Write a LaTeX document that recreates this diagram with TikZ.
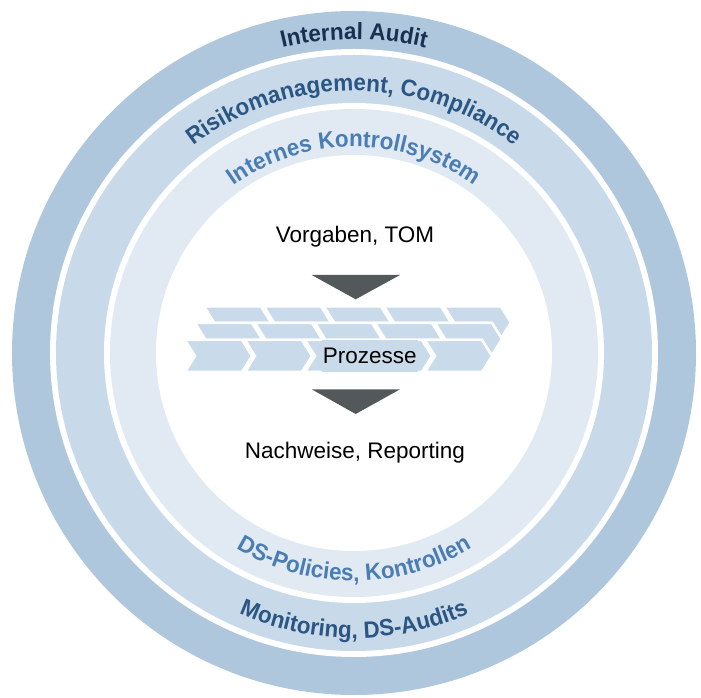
\documentclass[tikz,border=0pt]{standalone}
\usepackage{fontspec}
\setmainfont{Liberation Sans}
\newfontfamily\ringfam{Liberation Sans}[FakeStretch=0.955]
\usetikzlibrary{decorations.text}

\definecolor{ringouter}{HTML}{AFC7DD}
\definecolor{ringmiddle}{HTML}{C8DAE9}
\definecolor{ringinner}{HTML}{E1EAF3}
\definecolor{chevblue}{HTML}{C9DAEA}
\definecolor{arrowgray}{HTML}{53585B}
\definecolor{auditcol}{HTML}{1A3050}
\definecolor{riskcol}{HTML}{2B5683}
\definecolor{ikscol}{HTML}{4A7DB4}

\newcommand\ringfont{\ringfam\fontsize{23.5}{26}\selectfont\bfseries}
\newcommand\centerfont{\fontsize{22.5}{26}\selectfont}

% one chevron: #1 = left x, #2 = top y
\newcommand\chevron[2]{%
  \path[chevfill] (#1,#2) -- ++(57,0) -- ++(10,-16) -- ++(-10,-16)
    -- ++(-57,0) -- ++(10,16) -- cycle;}
% white backing behind a row of five chevrons
\newcommand\chevrow[2]{%
  \path[backing] (#1,#2) -- ++(297,0) -- ++(10,-16) -- ++(-10,-16)
    -- ++(-297,0) -- ++(10,16) -- cycle;
  \foreach \k in {0,...,4}{\chevron{#1+60*\k}{#2}}}

\begin{document}
\begin{tikzpicture}[x=1pt,y=1pt,
  chevfill/.style={fill=chevblue, draw=white, line width=2.5pt, line join=miter},
  backing/.style={fill=white, draw=white, line width=2.5pt},
  marker/.style={fill=arrowgray},
  centertext/.style={anchor=base, font=\centerfont, text=black, inner sep=0pt}]
\useasboundingbox (-354,-345) rectangle (347,353);

% concentric rings
\fill[ringouter] (0,0) circle[radius=342];
\fill[white] (0,0) circle[radius=304];
\fill[ringmiddle] (0,0) circle[radius=298];
\fill[white] (0,0) circle[radius=250];
\fill[ringinner] (0,0) circle[radius=244];
\fill[white] (0,0) circle[radius=198];

% ring labels, top
\path[decorate, decoration={text along path, text align=center, text color=auditcol,
  text={|\ringfont|Internal Audit}}]
  (160:313.5) arc[start angle=160, end angle=20, radius=313.5];
\path[decorate, decoration={text along path, text align=center, text color=riskcol,
  text={|\ringfont|Risikomanagement, Compliance}}]
  (165:262) arc[start angle=165, end angle=15, radius=262];
\path[decorate, decoration={text along path, text align=center, text color=ikscol,
  text={|\ringfont|Internes Kontrollsystem}}]
  (165:206) arc[start angle=165, end angle=15, radius=206];

% ring labels, bottom
\path[decorate, decoration={text along path, text align=center, text color=ikscol,
  text={|\ringfont|DS-Policies, Kontrollen}}]
  (195:228) arc[start angle=195, end angle=345, radius=228];
\path[decorate, decoration={text along path, text align=center, text color=riskcol,
  text={|\ringfont|Monitoring, DS-Audits}}]
  (200:285) arc[start angle=200, end angle=340, radius=285];

% centre content
\node[centertext] (vorgaben) at (1,110.7) {Vorgaben, TOM};
\fill[marker] (-42.3,78) -- (46,78) -- (1.7,53.7) -- cycle;

\chevrow{-150}{46.5}
\chevrow{-159}{30}
\chevrow{-169}{13}
\node[fill=chevblue, minimum width=96pt, minimum height=32pt, inner sep=0pt,
  font=\centerfont] (prozesse) at (15.8,-3) {Prozesse};

\fill[marker] (-42.3,-36.3) -- (46,-36.3) -- (1.7,-61) -- cycle;
\node[centertext] (nachweise) at (1,-105.3) {Nachweise, Reporting};
\end{tikzpicture}
\end{document}
